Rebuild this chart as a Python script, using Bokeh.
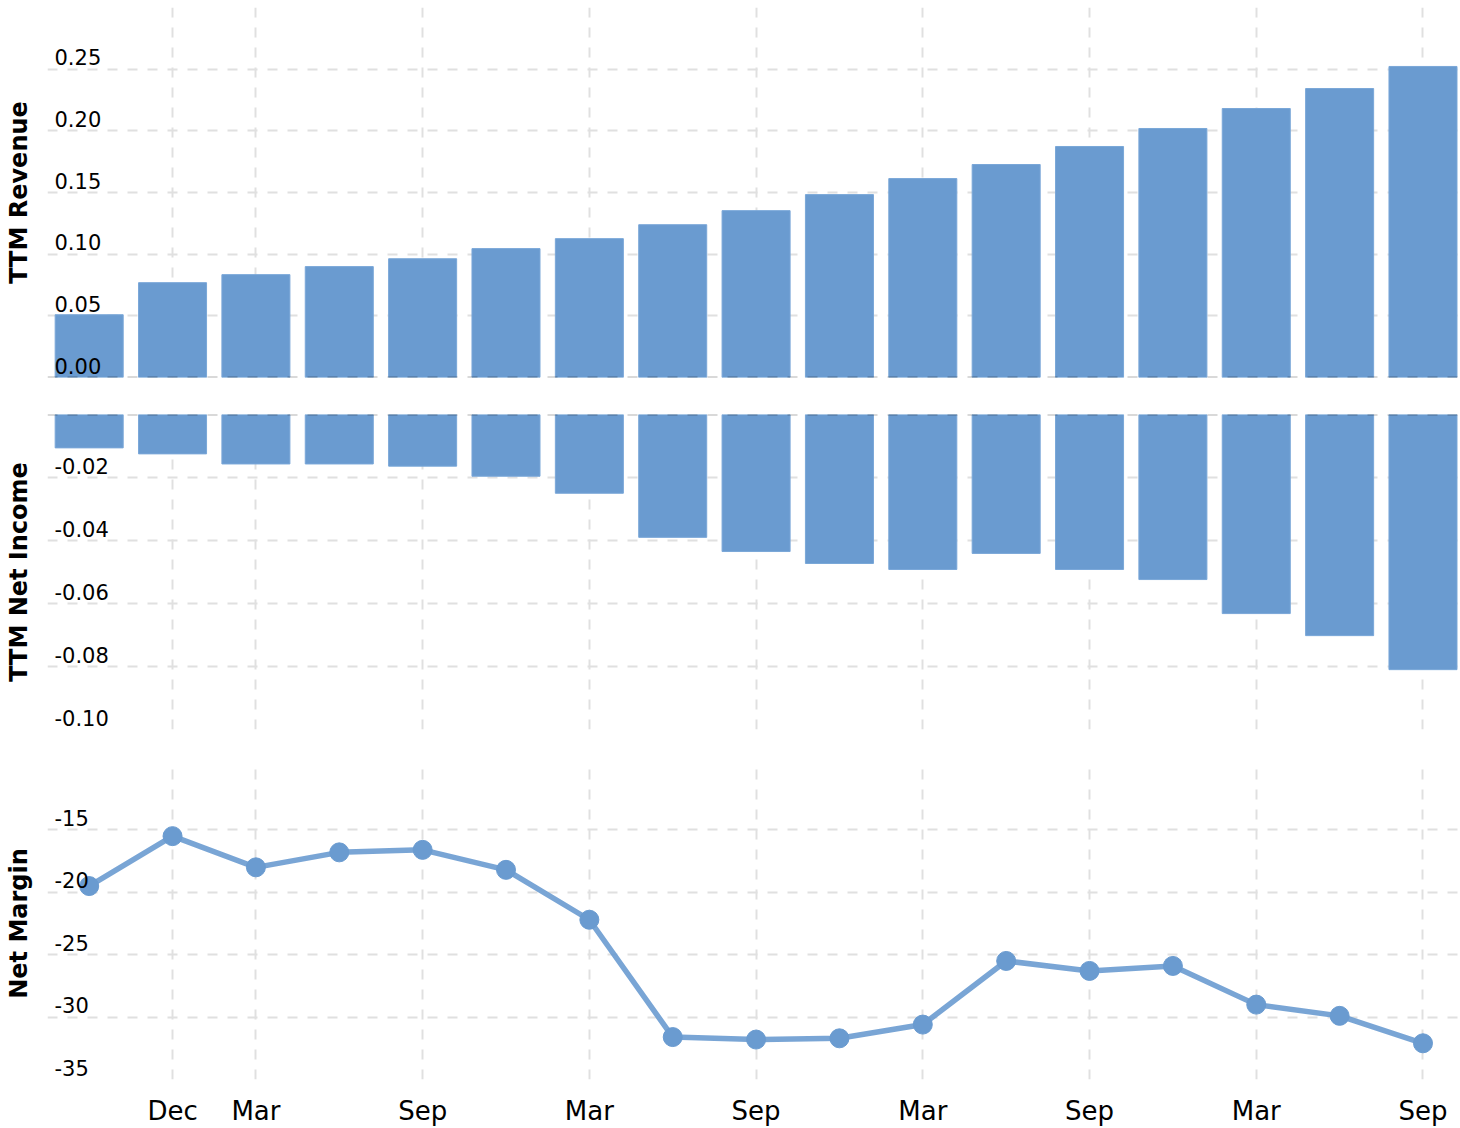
from bokeh.plotting import figure
from bokeh.layouts import column
from bokeh.models import Range1d, FixedTicker, Span
from bokeh.core.properties import value
from bokeh.embed import file_html
from bokeh.resources import INLINE

# ---------------- data ----------------
quarter_index = list(range(17))
revenue = [0.0509, 0.0769, 0.0834, 0.0899, 0.0963, 0.1045, 0.1126, 0.1239, 0.1353,
           0.1483, 0.1613, 0.1727, 0.1873, 0.2019, 0.2181, 0.2343, 0.2522]
net_income = [-0.0106, -0.0125, -0.0157, -0.0157, -0.0164, -0.0196, -0.0250, -0.0390,
              -0.0435, -0.0473, -0.0492, -0.0441, -0.0492, -0.0524, -0.0632, -0.0702, -0.0810]
net_margin = [-19.5, -15.5, -18.0, -16.8, -16.6, -18.2, -22.2, -31.6, -31.8, -31.7,
              -30.6, -25.5, -26.3, -25.9, -29.0, -29.9, -32.1]

x_tick_positions = [1, 2, 4, 6, 8, 10, 12, 14, 16]
x_tick_labels = ["Dec", "Mar", "Sep", "Mar", "Sep", "Mar", "Sep", "Mar", "Sep"]

rev_grid = [0.05, 0.10, 0.15, 0.20, 0.25, 0.30]
rev_ticks = [0.00, 0.05, 0.10, 0.15, 0.20, 0.25]
rev_tick_labels = ["0.00", "0.05", "0.10", "0.15", "0.20", "0.25"]

ni_grid = [-0.02, -0.04, -0.06, -0.08, -0.10]
ni_ticks = [-0.02, -0.04, -0.06, -0.08, -0.10]
ni_tick_labels = ["-0.02", "-0.04", "-0.06", "-0.08", "-0.10"]

nm_grid = [-10, -15, -20, -25, -30, -35]
nm_ticks = [-15, -20, -25, -30, -35]
nm_tick_labels = ["-15", "-20", "-25", "-30", "-35"]

# ---------------- style ----------------
BAR = "#6a9bd0"
BAR_EDGE = "#7aa7d8"
GRID = "#e0e0e0"
FONT = "DejaVu Sans"
WIDTH = 1460
LEFT = 47

x_range = Range1d(-0.5, 16.45)


def make_fig(height, y_start, y_end, top_border, bottom_border, title, grid_ticks):
    p = figure(width=WIDTH, height=height, x_range=x_range,
               y_range=Range1d(y_start, y_end),
               output_backend="svg", toolbar_location=None,
               min_border_left=LEFT, min_border_right=0,
               min_border_top=top_border, min_border_bottom=bottom_border)
    p.outline_line_color = None
    p.background_fill_color = "white"
    p.border_fill_color = "white"
    # y axis only carries the title
    p.yaxis.ticker = FixedTicker(ticks=[])
    p.yaxis.axis_line_color = None
    p.yaxis.major_tick_line_color = None
    p.yaxis.minor_tick_line_color = None
    p.yaxis.major_label_text_font_size = "0px"
    p.yaxis.axis_label = title
    p.yaxis.axis_label_text_font = FONT
    p.yaxis.axis_label_text_font_style = "bold"
    p.yaxis.axis_label_text_font_size = "24px"
    p.yaxis.axis_label_text_color = "black"
    p.yaxis.axis_label_standoff = 15
    # grids
    p.ygrid.ticker = FixedTicker(ticks=grid_ticks)
    p.xgrid.ticker = FixedTicker(ticks=x_tick_positions)
    for g in (p.xgrid, p.ygrid):
        g.grid_line_color = GRID
        g.grid_line_width = 2
        g.grid_line_dash = "10 10"
    return p


def tick_text(p, ticks, labels):
    p.text(x=[x_range.start] * len(ticks), y=ticks, text=labels,
           x_offset=7, y_offset=-12,
           text_font=value(FONT), text_font_size="21px",
           text_color="black", text_align="left", text_baseline="alphabetic")


# ---------------- top: revenue ----------------
p1 = make_fig(414, 0.0, 0.30, 7, 37, "TTM Revenue", rev_grid)
p1.xaxis.visible = False
p1.vbar(x=quarter_index, top=revenue, bottom=0, width=0.816,
        fill_color=BAR, line_color=BAR_EDGE, line_width=1)
tick_text(p1, rev_ticks, rev_tick_labels)
p1.add_layout(Span(location=0, dimension="width", line_color="black", line_alpha=0.3,
                   line_width=2, line_dash="10 10", level="overlay"))

# ---------------- middle: net income ----------------
p2 = make_fig(353, -0.10, 0.0, 0, 38, "TTM Net Income", ni_grid)
p2.xaxis.visible = False
p2.vbar(x=quarter_index, top=0, bottom=net_income, width=0.816,
        fill_color=BAR, line_color=BAR_EDGE, line_width=1)
tick_text(p2, ni_ticks, ni_tick_labels)
p2.add_layout(Span(location=0, dimension="width", line_color="black", line_alpha=0.3,
                   line_width=2, line_dash="10 10", level="overlay"))

# ---------------- bottom: net margin ----------------
p3 = make_fig(361, -35, -10, 0, 47, "Net Margin", nm_grid)
p3.line(quarter_index, net_margin, line_color=BAR, line_width=5.5, line_alpha=0.9)
p3.scatter(quarter_index, net_margin, size=19, fill_color=BAR, line_color=BAR)
tick_text(p3, nm_ticks, nm_tick_labels)
p3.xaxis.ticker = FixedTicker(ticks=x_tick_positions)
p3.xaxis.major_label_overrides = {pos: lab for pos, lab in zip(x_tick_positions, x_tick_labels)}
p3.xaxis.axis_line_color = None
p3.xaxis.major_tick_line_color = None
p3.xaxis.minor_tick_line_color = None
p3.xaxis.major_tick_out = 0
p3.xaxis.major_tick_in = 0
p3.xaxis.major_label_standoff = 16
p3.xaxis.major_label_text_font = FONT
p3.xaxis.major_label_text_font_size = "26px"
p3.xaxis.major_label_text_color = "black"

layout = column(p1, p2, p3, spacing=0)
open("out.html", "w").write(file_html(layout, INLINE))
